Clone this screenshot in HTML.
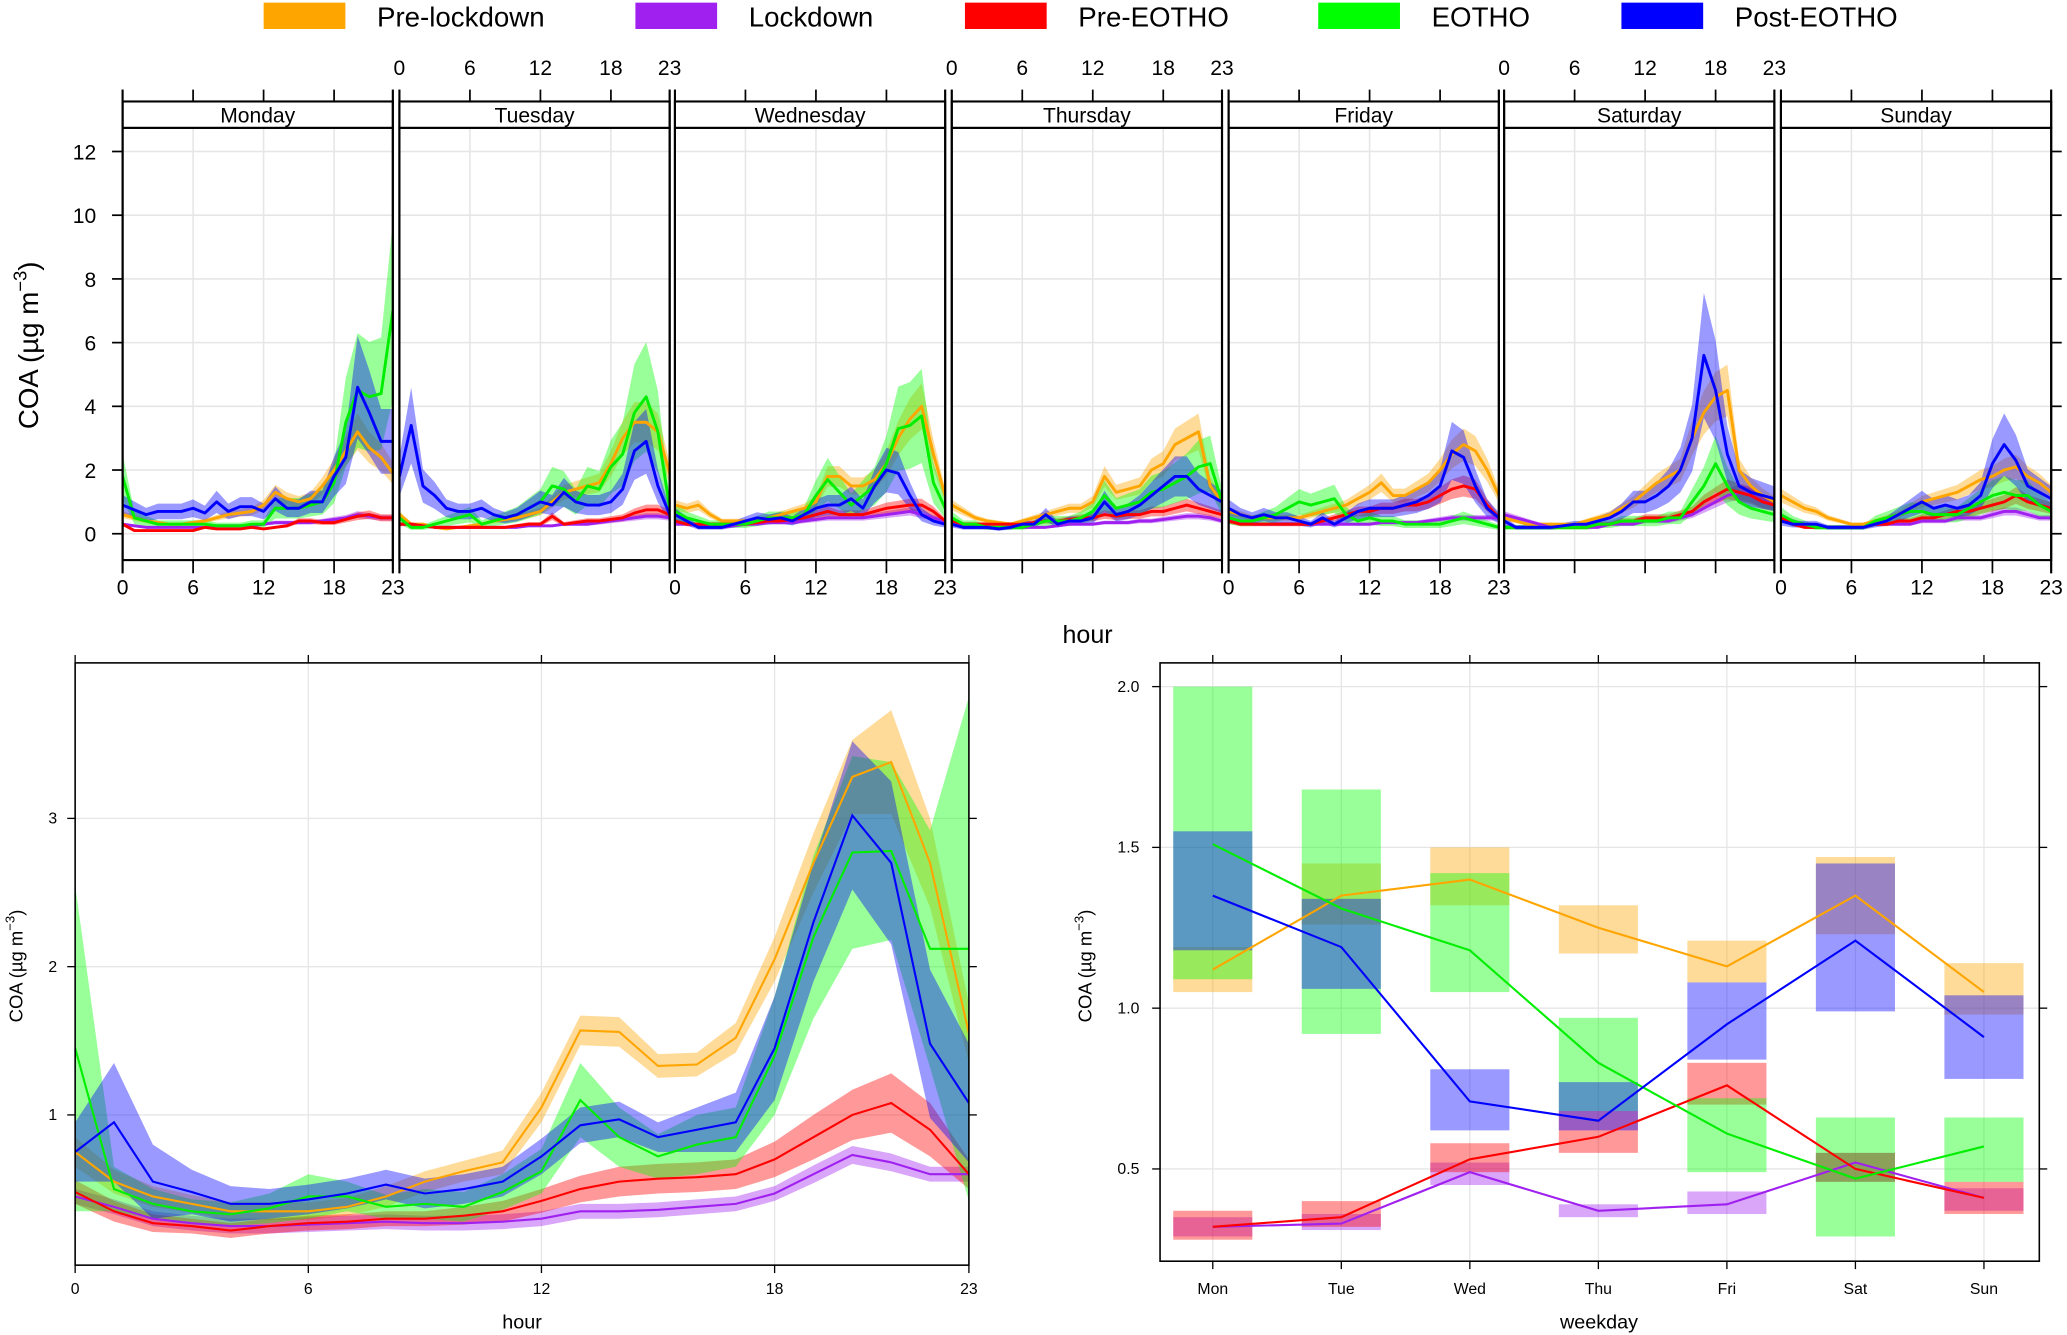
<!DOCTYPE html>
<html><head><meta charset="utf-8"><title>COA diurnal and weekday variation</title>
<style>
html,body{margin:0;padding:0;background:#fff;}
svg{display:block;font-family:"Liberation Sans",sans-serif;}
</style></head>
<body>
<svg id="chart" width="2067" height="1335" viewBox="0 0 1568 1013" preserveAspectRatio="none" xmlns="http://www.w3.org/2000/svg">
<rect width="1568" height="1013" fill="#fff"/>
<g id="legend"></g>
<g id="top"></g>
<g id="bl"></g>
<g id="br"></g>
</svg>
<script>
const seriesNames = ["Pre-lockdown","Lockdown","Pre-EOTHO","EOTHO","Post-EOTHO"];
const dayNames = ["Monday","Tuesday","Wednesday","Thursday","Friday","Saturday","Sunday"];
const dayShort = ["Mon","Tue","Wed","Thu","Fri","Sat","Sun"];
const hourTicks = [0,6,12,18,23];
const topYTicks = [0,2,4,6,8,10,12];
const blYTicks = [1,2,3];
const brYTicks = [0.5,1.0,1.5,2.0];
const brYTickLabels = ["0.5","1.0","1.5","2.0"];

// top panels: [day][hour]
const preLockdown = [
[.6,.5,.4,.35,.3,.3,.35,.4,.5,.6,.65,.7,.9,1.3,1.1,1.0,1.1,1.5,2.0,2.6,3.2,2.7,2.4,1.9],
[.6,.3,.3,.2,.15,.2,.25,.3,.4,.45,.5,.6,.7,1.0,1.3,1.4,1.5,1.6,2.2,3.0,3.5,3.5,3.2,1.9],
[.9,.8,.9,.6,.4,.4,.4,.4,.5,.6,.7,.8,1.0,1.8,1.8,1.5,1.5,1.7,2.2,3.0,3.6,4.0,2.5,1.2],
[.9,.7,.5,.4,.35,.3,.4,.5,.6,.7,.8,.8,1.0,1.8,1.3,1.4,1.5,2.0,2.2,2.8,3.0,3.2,1.5,1.0],
[.7,.6,.5,.5,.5,.5,.5,.6,.7,.8,.9,1.1,1.3,1.6,1.2,1.2,1.4,1.6,2.0,2.5,2.8,2.6,2.0,1.2],
[.5,.4,.3,.3,.3,.3,.3,.4,.5,.6,.8,1.0,1.3,1.6,1.8,2.0,3.0,3.8,4.3,4.5,2.0,1.5,1.2,1.0],
[1.2,1.0,.8,.7,.5,.4,.3,.3,.4,.5,.6,.8,1.0,1.1,1.2,1.3,1.5,1.7,1.8,2.0,2.1,1.8,1.6,1.3]];
const lockdown = [
[.3,.25,.2,.2,.2,.2,.2,.2,.25,.25,.25,.25,.3,.35,.35,.35,.35,.4,.45,.5,.6,.55,.5,.5],
[.3,.3,.25,.2,.2,.2,.2,.2,.2,.2,.2,.25,.25,.25,.3,.3,.3,.35,.4,.45,.5,.55,.55,.5],
[.3,.3,.25,.2,.2,.25,.3,.3,.35,.35,.35,.4,.45,.5,.5,.5,.5,.55,.6,.65,.7,.6,.5,.4],
[.3,.2,.2,.2,.2,.2,.2,.2,.2,.25,.3,.3,.3,.35,.35,.35,.4,.4,.45,.5,.55,.55,.5,.4],
[.4,.35,.3,.3,.3,.3,.3,.3,.3,.3,.3,.3,.3,.35,.35,.35,.35,.4,.45,.5,.5,.5,.5,.5],
[.6,.5,.4,.3,.2,.2,.2,.2,.2,.3,.3,.3,.4,.4,.4,.5,.6,.8,1.0,1.2,1.3,1.2,1.0,.9],
[.5,.4,.3,.2,.2,.2,.2,.2,.3,.3,.3,.3,.4,.4,.4,.5,.5,.5,.6,.7,.7,.6,.5,.5]];
const preEOTHO = [
[.3,.1,.1,.1,.1,.1,.1,.2,.15,.15,.15,.2,.15,.2,.25,.4,.4,.35,.35,.45,.55,.6,.5,.5],
[.3,.3,.25,.2,.2,.2,.2,.2,.2,.2,.25,.3,.3,.55,.3,.35,.4,.4,.45,.5,.65,.75,.75,.6],
[.4,.3,.3,.3,.3,.3,.3,.35,.4,.4,.45,.5,.6,.7,.6,.6,.6,.7,.8,.85,.9,.9,.7,.4],
[.4,.3,.3,.3,.3,.3,.3,.35,.4,.4,.45,.5,.5,.6,.55,.6,.6,.7,.7,.8,.9,.8,.7,.6],
[.4,.3,.3,.3,.3,.3,.3,.3,.4,.5,.6,.7,.7,.8,.8,.9,.9,1.0,1.2,1.4,1.5,1.4,.9,.5],
[.2,.2,.2,.2,.2,.2,.2,.2,.3,.3,.4,.4,.5,.5,.5,.6,.7,1.0,1.2,1.4,1.3,1.2,1.0,.9],
[.5,.3,.2,.2,.2,.2,.2,.2,.3,.3,.4,.4,.5,.5,.6,.7,.7,.8,.9,1.0,1.2,1.0,.9,.8]];
const eotho = [
[1.8,.5,.4,.3,.3,.3,.3,.3,.25,.25,.25,.3,.3,.8,.8,.8,.9,1.0,1.6,3.5,4.5,4.3,4.4,7.0],
[.5,.2,.2,.3,.4,.5,.6,.3,.4,.5,.6,.8,1.0,1.5,1.4,1.0,1.5,1.4,2.1,2.5,3.8,4.3,3.2,.8],
[.7,.5,.4,.3,.3,.3,.3,.4,.5,.5,.5,.6,1.2,1.7,1.3,.9,1.2,1.5,2.2,3.3,3.4,3.7,1.6,.8],
[.5,.3,.3,.2,.2,.2,.2,.3,.4,.4,.4,.5,.7,1.2,.8,.9,1.0,1.3,1.4,1.6,1.8,2.1,2.2,1.0],
[.5,.4,.4,.5,.6,.8,1.0,.9,1.0,1.1,.6,.4,.5,.4,.4,.3,.3,.3,.3,.4,.5,.4,.3,.2],
[.2,.2,.2,.2,.2,.2,.2,.2,.3,.3,.4,.4,.4,.4,.5,.5,1.0,1.5,2.2,1.5,1.0,.8,.7,.6],
[.6,.4,.3,.2,.2,.2,.2,.2,.4,.5,.6,.7,.7,.6,.6,.6,.8,1.0,1.2,1.3,1.2,1.2,.9,.7]];
const postEOTHO = [
[.9,.75,.6,.7,.7,.7,.8,.65,1.0,.7,.85,.85,.7,1.1,.8,.8,1.0,1.0,1.8,2.4,4.6,3.8,2.9,2.9],
[1.8,3.4,1.5,1.2,.8,.7,.7,.8,.6,.5,.6,.8,1.0,.9,1.3,1.0,.9,.9,1.0,1.4,2.6,2.9,1.5,.6],
[.6,.4,.2,.2,.2,.3,.4,.5,.45,.5,.4,.6,.8,.9,.9,1.1,.8,1.5,2.0,1.9,1.2,.6,.4,.3],
[.3,.2,.2,.2,.15,.2,.3,.3,.6,.3,.4,.4,.5,1.0,.6,.7,.9,1.2,1.5,1.8,1.8,1.4,1.2,1.0],
[.8,.6,.5,.6,.5,.5,.4,.3,.5,.3,.5,.7,.8,.8,.8,.9,1.0,1.2,1.5,2.6,2.4,1.5,.8,.5],
[.4,.2,.2,.2,.2,.25,.3,.3,.4,.5,.7,1.0,1.0,1.2,1.5,2.0,3.0,5.6,4.5,2.5,1.5,1.3,1.2,1.1],
[.4,.3,.3,.3,.2,.2,.2,.2,.3,.4,.6,.8,1.0,.8,.9,.8,.9,1.2,2.2,2.8,2.3,1.5,1.3,1.1]];
const topBandRel = [0.18,0.18,0.22,0.4,0.35];

// bottom-left hourly means and half-widths
const hourlyPreLockdown = [.75,.55,.45,.4,.35,.35,.35,.38,.45,.55,.62,.68,1.05,1.57,1.56,1.33,1.34,1.52,2.05,2.7,3.28,3.38,2.7,1.55];
const hourlyLockdown = [.45,.38,.3,.27,.25,.25,.26,.27,.28,.27,.27,.28,.3,.35,.35,.36,.38,.4,.47,.6,.73,.68,.6,.6];
const hourlyPreEOTHO = [.48,.35,.27,.25,.22,.25,.27,.28,.3,.3,.32,.35,.42,.5,.55,.57,.58,.6,.7,.85,1.0,1.08,.9,.6];
const hourlyEOTHO = [1.45,.5,.4,.35,.33,.37,.45,.45,.38,.4,.38,.48,.62,1.1,.85,.72,.8,.85,1.4,2.2,2.77,2.78,2.12,2.12];
const hourlyPostEOTHO = [.75,.95,.55,.48,.4,.4,.43,.47,.53,.47,.5,.55,.72,.93,.97,.85,.9,.95,1.45,2.3,3.02,2.7,1.48,1.08];
const hwPreLockdown = [.1,.08,.07,.06,.06,.06,.06,.06,.07,.07,.07,.08,.1,.1,.1,.08,.08,.1,.15,.2,.25,.35,.3,.2];
const hwLockdown = [.05,.05,.05,.05,.05,.05,.05,.05,.05,.05,.05,.05,.05,.05,.05,.05,.05,.05,.05,.06,.06,.06,.05,.05];
const hwPreEOTHO = [.08,.07,.06,.05,.05,.05,.05,.05,.05,.05,.06,.07,.08,.09,.1,.1,.1,.1,.12,.15,.17,.2,.18,.1];
const hwEOTHO = [1.1,.15,.1,.08,.08,.1,.15,.1,.08,.1,.1,.12,.15,.25,.2,.15,.2,.2,.4,.55,.65,.6,.8,1.7];
const hwPostEOTHO = [.2,.4,.25,.15,.12,.1,.1,.1,.1,.1,.1,.1,.12,.12,.12,.1,.15,.2,.35,.4,.5,.55,.5,.4];

// bottom-right weekday means and intervals
const wdPreLockdown = [1.12,1.35,1.40,1.25,1.13,1.35,1.05];
const wdPreLockdownLo = [1.05,1.26,1.32,1.17,1.08,1.23,0.98];
const wdPreLockdownHi = [1.19,1.45,1.50,1.32,1.21,1.47,1.14];
const wdLockdown = [0.32,0.33,0.49,0.37,0.39,0.52,0.41];
const wdLockdownLo = [0.29,0.31,0.45,0.35,0.36,0.46,0.37];
const wdLockdownHi = [0.35,0.36,0.52,0.39,0.43,0.55,0.44];
const wdPreEOTHO = [0.32,0.35,0.53,0.60,0.76,0.50,0.41];
const wdPreEOTHOLo = [0.28,0.32,0.49,0.55,0.70,0.46,0.36];
const wdPreEOTHOHi = [0.37,0.40,0.58,0.68,0.83,0.55,0.46];
const wdEOTHO = [1.51,1.31,1.18,0.83,0.61,0.47,0.57];
const wdEOTHOLo = [1.09,0.92,1.05,0.68,0.49,0.29,0.46];
const wdEOTHOHi = [2.00,1.68,1.42,0.97,0.72,0.66,0.66];
const wdPostEOTHO = [1.35,1.19,0.71,0.65,0.95,1.21,0.91];
const wdPostEOTHOLo = [1.18,1.06,0.62,0.62,0.84,0.99,0.78];
const wdPostEOTHOHi = [1.55,1.34,0.81,0.77,1.08,1.45,1.04];

const colors = ["#FFA500","#A020F0","#FF0000","#00EE00","#0000FF"];
const bandColors = ["#FFA500","#A020F0","#FF0000","#00FF00","#0000FF"];
const NS = "http://www.w3.org/2000/svg";
function mk(parent, tag, attrs, text){
  const e = document.createElementNS(NS, tag);
  for (const k in attrs) e.setAttribute(k, attrs[k]);
  if (text !== undefined) e.textContent = text;
  parent.appendChild(e);
  return e;
}
const slug = s => s.toLowerCase().replace(/[^a-z0-9]+/g,'-');

// ---------- legend ----------
const legendG = document.getElementById('legend');
const legX = [200,482,732,1000,1230];
seriesNames.forEach((n,i)=>{
  const g = mk(legendG,'g',{});
  
  
  const r = mk(g,'rect',{x:legX[i],y:2,width:62,height:20,fill:bandColors[i]});
  
  
  const t = mk(g,'text',{x:legX[i]+86,y:20,'font-size':21},n);
  
  
});

// ---------- top panels ----------
const topPanels = document.getElementById('top');
const panelX = [93,303,512,722,932,1141,1351];
const PW = 205, PY0 = 97, PY1 = 425;
const xT = (d,h) => panelX[d] + h*PW/23;
const yT = v => 405 - v*24.17;
const topSeries = [preLockdown,lockdown,preEOTHO,eotho,postEOTHO];
const defs = mk(document.getElementById('chart'),'defs',{});
dayNames.forEach((dn,d)=>{
  const g = mk(topPanels,'g',{});
  
  
  const cp = mk(defs,'clipPath',{id:'clip'+d});
  mk(cp,'rect',{x:panelX[d],y:PY0,width:PW,height:PY1-PY0});
  topYTicks.forEach(v=>{ const l=mk(g,'line',{x1:panelX[d],x2:panelX[d]+PW,y1:yT(v),y2:yT(v),stroke:'#e6e6e6','stroke-width':1.2});
      });
  hourTicks.forEach(h=>{ const l=mk(g,'line',{x1:xT(d,h),x2:xT(d,h),y1:PY0,y2:PY1,stroke:'#e6e6e6','stroke-width':1.2});
      });
  const data = mk(g,'g',{'clip-path':'url(#clip'+d+')'});
  topSeries.forEach((s,si)=>{
    const vals = s[d];
    let up = vals.map((v,h)=>xT(d,h)+','+yT(v*(1+topBandRel[si]))).join(' ');
    let dn2 = vals.map((v,h)=>xT(d,h)+','+yT(v*(1-topBandRel[si]))).reverse().join(' ');
    const p = mk(data,'polygon',{points:up+' '+dn2,fill:bandColors[si],'fill-opacity':0.4,stroke:'none'});
    
    
  });
  topSeries.forEach((s,si)=>{
    const vals = s[d];
    const pl = mk(data,'polyline',{points:vals.map((v,h)=>xT(d,h)+','+yT(v)).join(' '),fill:'none',stroke:colors[si],'stroke-width':2.2,'stroke-linejoin':'round'});
    
    
  });
  mk(g,'rect',{x:panelX[d],y:PY0,width:PW,height:PY1-PY0,fill:'none',stroke:'#000','stroke-width':1.6});
  const st = mk(g,'rect',{x:panelX[d],y:77,width:PW,height:20,fill:'#fff',stroke:'#000','stroke-width':1.6});
   
  const stt = mk(g,'text',{x:panelX[d]+PW/2,y:93,'text-anchor':'middle','font-size':16},dn);
   
  mk(g,'line',{x1:panelX[d],x2:panelX[d],y1:68,y2:435,stroke:'#000','stroke-width':1.6});
  mk(g,'line',{x1:panelX[d]+PW,x2:panelX[d]+PW,y1:68,y2:435,stroke:'#000','stroke-width':1.6});
  hourTicks.forEach(h=>{
    mk(g,'line',{x1:xT(d,h),x2:xT(d,h),y1:68,y2:77,stroke:'#000','stroke-width':1.3});
    mk(g,'line',{x1:xT(d,h),x2:xT(d,h),y1:425,y2:435,stroke:'#000','stroke-width':1.3});
    if (d%2==1){ const t=mk(g,'text',{x:xT(d,h),y:57,'text-anchor':'middle','font-size':16},String(h));
        }
    else { const t=mk(g,'text',{x:xT(d,h),y:451,'text-anchor':'middle','font-size':16},String(h));
        }
  });
});
topYTicks.forEach(v=>{
  mk(topPanels,'line',{x1:85,x2:93,y1:yT(v),y2:yT(v),stroke:'#000','stroke-width':1.3});
  mk(topPanels,'line',{x1:1556,x2:1564,y1:yT(v),y2:yT(v),stroke:'#000','stroke-width':1.3});
  const t=mk(topPanels,'text',{x:73,y:yT(v)+6,'text-anchor':'end','font-size':16},String(v));
   
});
{
  const t = mk(topPanels,'text',{transform:'translate(29,262) rotate(-90)','text-anchor':'middle','font-size':21});
   
  mk(t,'tspan',{},'COA (µg m');
  mk(t,'tspan',{dy:-9,'font-size':14},'−3');
  mk(t,'tspan',{dy:9},')');
  const h = mk(topPanels,'text',{x:825,y:488,'text-anchor':'middle','font-size':19},'hour');
   
}

// ---------- bottom-left ----------
const bl = document.getElementById('bl');
const BX0=57,BX1=735,BY0=503,BY1=960;
const xB = h => BX0 + h*(BX1-BX0)/23;
const yB = v => 958.5 - v*112.5;
const cpbl = mk(defs,'clipPath',{id:'clipbl'});
mk(cpbl,'rect',{x:BX0,y:BY0,width:BX1-BX0,height:BY1-BY0});
blYTicks.forEach(v=>mk(bl,'line',{x1:BX0,x2:BX1,y1:yB(v),y2:yB(v),stroke:'#e6e6e6','stroke-width':1}));
hourTicks.forEach(h=>mk(bl,'line',{x1:xB(h),x2:xB(h),y1:BY0,y2:BY1,stroke:'#e6e6e6','stroke-width':1}));
const hMeans = [hourlyPreLockdown,hourlyLockdown,hourlyPreEOTHO,hourlyEOTHO,hourlyPostEOTHO];
const hWidths = [hwPreLockdown,hwLockdown,hwPreEOTHO,hwEOTHO,hwPostEOTHO];
const bld = mk(bl,'g',{'clip-path':'url(#clipbl)'});
hMeans.forEach((m,si)=>{
  const w = hWidths[si];
  const up = m.map((v,h)=>xB(h)+','+yB(v+w[h])).join(' ');
  const dn = m.map((v,h)=>xB(h)+','+yB(Math.max(0,v-w[h]))).reverse().join(' ');
  const p = mk(bld,'polygon',{points:up+' '+dn,fill:bandColors[si],'fill-opacity':0.4});
  
  
});
hMeans.forEach((m,si)=>{
  const pl = mk(bld,'polyline',{points:m.map((v,h)=>xB(h)+','+yB(v)).join(' '),fill:'none',stroke:colors[si],'stroke-width':1.6});
  
  
});
mk(bl,'rect',{x:BX0,y:BY0,width:BX1-BX0,height:BY1-BY0,fill:'none',stroke:'#000','stroke-width':1.2});
hourTicks.forEach(h=>{
  mk(bl,'line',{x1:xB(h),x2:xB(h),y1:BY1,y2:BY1+6,stroke:'#000'});
  mk(bl,'line',{x1:xB(h),x2:xB(h),y1:BY0-6,y2:BY0,stroke:'#000'});
  const t=mk(bl,'text',{x:xB(h),y:982,'text-anchor':'middle','font-size':12},String(h));
   
});
blYTicks.forEach(v=>{
  mk(bl,'line',{x1:BX0-6,x2:BX0,y1:yB(v),y2:yB(v),stroke:'#000'});
  mk(bl,'line',{x1:BX1,x2:BX1+6,y1:yB(v),y2:yB(v),stroke:'#000'});
  const t=mk(bl,'text',{x:40,y:yB(v)+4,'text-anchor':'middle','font-size':12},String(v));
   
});
{
  const t = mk(bl,'text',{transform:'translate(17,733) rotate(-90)','text-anchor':'middle','font-size':14});
   
  mk(t,'tspan',{},'COA (µg m'); mk(t,'tspan',{dy:-6,'font-size':10},'−3'); mk(t,'tspan',{dy:6},')');
  const h = mk(bl,'text',{x:396,y:1008,'text-anchor':'middle','font-size':15},'hour');
   
}

// ---------- bottom-right ----------
const br = document.getElementById('br');
const RX0=880,RX1=1547,RY0=503,RY1=957;
const xR = i => 920 + i*97.5;
const yR = v => 1009 - v*244;
brYTicks.forEach(v=>mk(br,'line',{x1:RX0,x2:RX1,y1:yR(v),y2:yR(v),stroke:'#e6e6e6','stroke-width':1}));
dayShort.forEach((d,i)=>mk(br,'line',{x1:xR(i),x2:xR(i),y1:RY0,y2:RY1,stroke:'#e6e6e6','stroke-width':1}));
const wM = [wdPreLockdown,wdLockdown,wdPreEOTHO,wdEOTHO,wdPostEOTHO];
const wLo = [wdPreLockdownLo,wdLockdownLo,wdPreEOTHOLo,wdEOTHOLo,wdPostEOTHOLo];
const wHi = [wdPreLockdownHi,wdLockdownHi,wdPreEOTHOHi,wdEOTHOHi,wdPostEOTHOHi];
wM.forEach((m,si)=>{
  m.forEach((v,i)=>{
    const r = mk(br,'rect',{x:xR(i)-30,y:yR(wHi[si][i]),width:60,height:yR(wLo[si][i])-yR(wHi[si][i]),fill:bandColors[si],'fill-opacity':0.4});
    
    
  });
});
wM.forEach((m,si)=>{
  const pl = mk(br,'polyline',{points:m.map((v,i)=>xR(i)+','+yR(v)).join(' '),fill:'none',stroke:colors[si],'stroke-width':1.6});
  
  
});
mk(br,'rect',{x:RX0,y:RY0,width:RX1-RX0,height:RY1-RY0,fill:'none',stroke:'#000','stroke-width':1.2});
dayShort.forEach((d,i)=>{
  mk(br,'line',{x1:xR(i),x2:xR(i),y1:RY1,y2:RY1+6,stroke:'#000'});
  mk(br,'line',{x1:xR(i),x2:xR(i),y1:RY0-6,y2:RY0,stroke:'#000'});
  const t=mk(br,'text',{x:xR(i),y:982,'text-anchor':'middle','font-size':12},d);
   
});
brYTicks.forEach((v,k)=>{
  mk(br,'line',{x1:RX0-6,x2:RX0,y1:yR(v),y2:yR(v),stroke:'#000'});
  mk(br,'line',{x1:RX1,x2:RX1+6,y1:yR(v),y2:yR(v),stroke:'#000'});
  const t=mk(br,'text',{x:856,y:yR(v)+4,'text-anchor':'middle','font-size':12},brYTickLabels[k]);
   
});
{
  const t = mk(br,'text',{transform:'translate(828,733) rotate(-90)','text-anchor':'middle','font-size':14});
   
  mk(t,'tspan',{},'COA (µg m'); mk(t,'tspan',{dy:-6,'font-size':10},'−3'); mk(t,'tspan',{dy:6},')');
  const h = mk(br,'text',{x:1213,y:1008,'text-anchor':'middle','font-size':15},'weekday');
   
}
</script>
</body></html>
